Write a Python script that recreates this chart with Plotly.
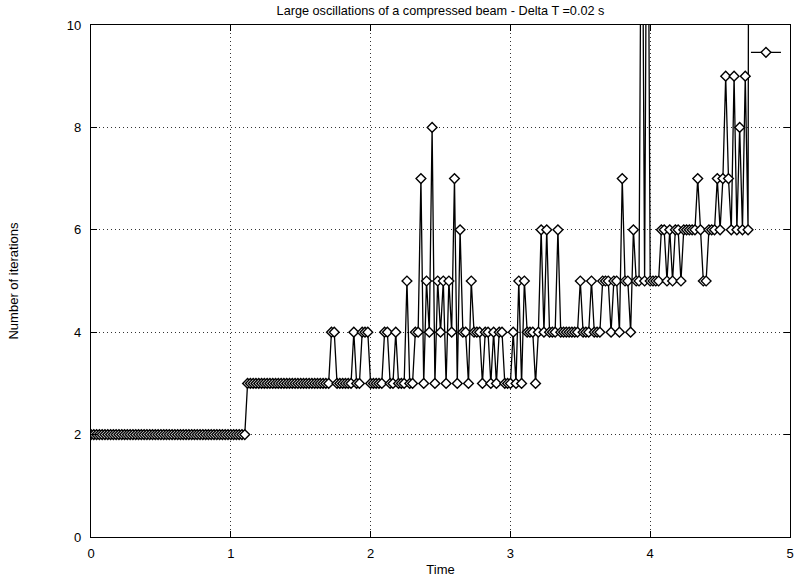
import plotly.graph_objects as go

TITLE = "Large oscillations of a compressed beam - Delta T =0.02 s"
X_LABEL = "Time"
Y_LABEL = "Number of iterations"
DT = 0.02

# Number of iterations per time step (values above 10 leave the frame)
iterations = [
    # t = 0.00 .. 1.10
    2, 2, 2, 2, 2, 2, 2, 2, 2, 2, 2, 2, 2, 2, 2, 2, 2, 2, 2, 2,
    2, 2, 2, 2, 2, 2, 2, 2, 2, 2, 2, 2, 2, 2, 2, 2, 2, 2, 2, 2,
    2, 2, 2, 2, 2, 2, 2, 2, 2, 2, 2, 2, 2, 2, 2, 2,
    # t = 1.12 .. 1.70
    3, 3, 3, 3, 3, 3, 3, 3, 3, 3, 3, 3, 3, 3, 3, 3, 3, 3, 3, 3,
    3, 3, 3, 3, 3, 3, 3, 3, 3, 3,
    # t = 1.72 ..
    4, 4, 3, 3, 3, 3, 3, 3, 4, 3, 3, 4, 4, 4, 3, 3, 3, 3, 3, 4,
    4, 3, 3, 4, 3, 3, 3, 5, 3, 3, 4, 4, 7, 3, 5, 4, 8, 3, 5, 4,
    5, 3, 5, 4, 7, 3, 6, 4, 4, 3, 5, 4, 4, 4, 3, 4, 4, 3, 4, 3,
    4, 4, 3, 3, 3, 4, 3, 5, 3, 5, 4, 4, 4, 3, 4, 6, 4, 6, 4, 4,
    4, 6, 4, 4, 4, 4, 4, 4, 4, 5, 4, 4, 4, 5, 4, 4, 4, 5, 5, 5,
    4, 5, 5, 4, 7, 5, 5, 4, 6, 5, 5, 15, 5, 16, 5, 5, 5, 5, 6, 6,
    5, 6, 5, 6, 6, 5, 6, 6, 6, 6, 6, 7, 6, 5, 5, 6, 6, 6, 7, 6,
    7, 9, 7, 6, 9, 6, 8, 6, 9, 6, 40,
]
time = [round(DT * i, 2) for i in range(len(iterations))]

x_ticks = [0, 1, 2, 3, 4, 5]
y_ticks = [0, 2, 4, 6, 8, 10]

FONT = "Liberation Sans, Arial, Helvetica, sans-serif"

fig = go.Figure()
fig.add_trace(go.Scatter(
    x=time, y=iterations, mode="lines+markers", name=" ",
    line=dict(color="black", width=1.3),
    marker=dict(symbol="diamond", size=7.5, color="white",
                line=dict(color="black", width=1.4)),
    showlegend=True,
))

axis_common = dict(
    showline=True, linecolor="black", linewidth=1.3, mirror="allticks",
    ticks="inside", ticklen=6, tickcolor="black", tickwidth=1.2,
    showgrid=True, gridcolor="#333", griddash="1px,3px", gridwidth=1,
    zeroline=False, tickfont=dict(family=FONT, size=13, color="black"),
)

fig.update_layout(
    width=800, height=581,
    margin=dict(l=91, r=6, t=25, b=41),
    paper_bgcolor="white", plot_bgcolor="white",
    font=dict(family=FONT, color="black"),
    title=dict(text=TITLE, x=0.5, xref="paper", xanchor="center",
               y=1 - 11 / 581, yref="container", yanchor="middle",
               font=dict(family=FONT, size=12.7, color="black")),
    xaxis=dict(range=[0, 5], tickvals=x_ticks, ticktext=[str(v) for v in x_ticks],
               title=dict(text=X_LABEL, standoff=5, font=dict(family=FONT, size=13)),
               ticklabelstandoff=4, **axis_common),
    yaxis=dict(range=[0, 10], tickvals=y_ticks, ticktext=[str(v) for v in y_ticks],
               title=dict(text=Y_LABEL, standoff=45, font=dict(family=FONT, size=13)),
               ticklabelstandoff=6, **axis_common),
    legend=dict(x=0.937, y=0.975, xanchor="left", yanchor="top",
                bgcolor="rgba(0,0,0,0)", borderwidth=0, itemwidth=30,
                font=dict(size=10)),
)

fig.write_html("out.html")
